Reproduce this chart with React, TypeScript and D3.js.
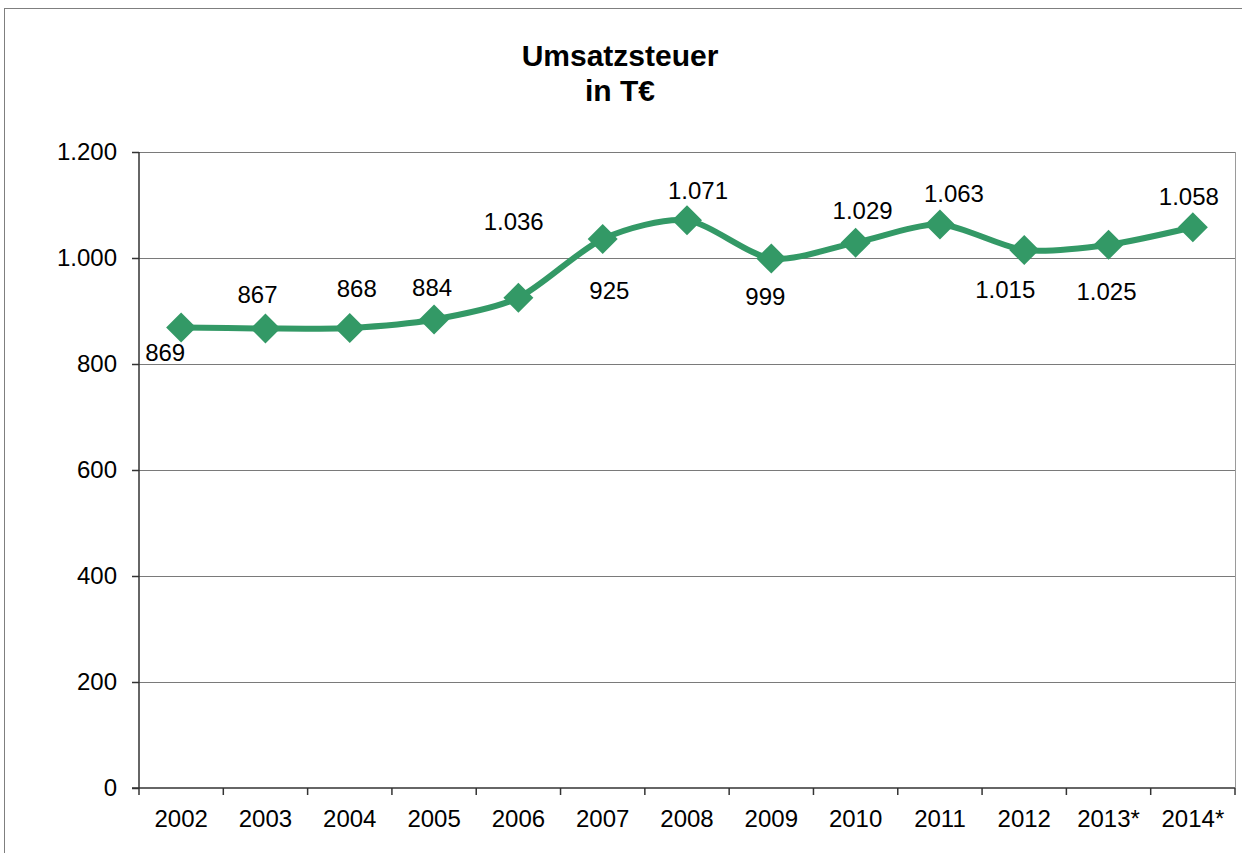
import React from 'react';
import * as d3 from "d3";

const years = ["2002", "2003", "2004", "2005", "2006", "2007", "2008", "2009", "2010", "2011", "2012", "2013*", "2014*"];
const values = [869, 867, 868, 884, 925, 1036, 1071, 999, 1029, 1063, 1015, 1025, 1058];
const yTicks = [0, 200, 400, 600, 800, 1000, 1200];
const titleLines = ["Umsatzsteuer", "in T€"];

// where each value label sits relative to its marker (dx, dy to baseline)
const labelOffsets: [number, number][] = [
    [-16, 34], [-8, -25], [7, -31], [-2, -23], [91, 1], [-89, -9], [11, -21],
    [-6, 46], [7, -24], [14, -23], [-19, 48], [-2, 55], [-4, -22]
];

const fmt = (v: number) => d3.format(",")(v).replace(/,/g, ".");

export default function App() {
    const width = 1242;
    const height = 853;
    const left = 139;
    const right = 1235;
    const top = 152;
    const bottom = 788;
    const green = "#339966";
    const font = "'Liberation Sans', Arial, sans-serif";

    const svgRef = React.useRef<SVGSVGElement>(null);

    React.useEffect(() => {
        const svg = d3.select(svgRef.current);
        svg.selectAll("*").remove();

        const x = d3.scaleBand().domain(years).range([left, right]);
        const y = d3.scaleLinear().domain([0, 1200]).range([bottom, top]);
        const cx = (i: number) => (x(years[i]) as number) + x.bandwidth() / 2;

        svg.append("rect")
            .attr("x", 4.5).attr("y", 8.5)
            .attr("width", 1300).attr("height", 900)
            .attr("fill", "white").attr("stroke", "#7f7f7f").attr("stroke-width", 1);

        // title
        svg.append("text")
            .attr("x", 620).attr("y", 66)
            .attr("text-anchor", "middle")
            .style("font-family", font).style("font-weight", "bold").style("font-size", "30px")
            .selectAll("tspan").data(titleLines).enter().append("tspan")
            .attr("x", 620).attr("dy", (d, i) => i === 0 ? 0 : 35)
            .text(d => d);

        // gridlines
        svg.append("g").selectAll("line").data(yTicks.filter(t => t > 0)).enter().append("line")
            .attr("x1", left).attr("x2", right)
            .attr("y1", d => Math.round(y(d)) + 0.5).attr("y2", d => Math.round(y(d)) + 0.5)
            .attr("stroke", "#7a7a7a").attr("stroke-width", 1);

        svg.append("line")
            .attr("x1", right + 0.5).attr("x2", right + 0.5).attr("y1", top).attr("y2", bottom)
            .attr("stroke", "#9a9a9a").attr("stroke-width", 1);

        // axes
        const axisY = d3.axisLeft(y).tickValues(yTicks).tickSize(7).tickPadding(15).tickFormat(d => fmt(d as number));
        const gy = svg.append("g").attr("transform", `translate(${left}, 0)`).call(axisY);
        gy.selectAll("text").style("font-family", font).style("font-size", "24px").attr("fill", "#000");
        gy.selectAll("line, path").attr("stroke", "#333").attr("stroke-width", 1.5);
        gy.select(".domain").attr("d", `M0,${top}V${bottom}`);

        const axisX = d3.axisBottom(x).tickSize(0).tickPadding(22);
        const gx = svg.append("g").attr("transform", `translate(0, ${bottom})`).call(axisX);
        gx.selectAll("text").style("font-family", font).style("font-size", "24px").attr("fill", "#000");
        gx.select(".domain").attr("d", `M${left - 7},0H${right}`).attr("stroke", "#333").attr("stroke-width", 1.5);
        gx.append("g").selectAll("line").data(d3.range(years.length + 1)).enter().append("line")
            .attr("x1", i => left + i * x.bandwidth()).attr("x2", i => left + i * x.bandwidth())
            .attr("y1", 0).attr("y2", 7)
            .attr("stroke", "#333").attr("stroke-width", 1.5);

        // line
        const line = d3.line<number>()
            .x((d, i) => cx(i))
            .y(d => y(d))
            .curve(d3.curveCardinal.tension(0.2));
        svg.append("path").datum(values)
            .attr("d", line)
            .attr("fill", "none").attr("stroke", green).attr("stroke-width", 6)
            .attr("stroke-linejoin", "round");

        // diamond markers
        const r = 15;
        svg.append("g").selectAll("path").data(values).enter().append("path")
            .attr("d", (d, i) => {
                const px = cx(i), py = y(d);
                return `M${px},${py - r}L${px + r},${py}L${px},${py + r}L${px - r},${py}Z`;
            })
            .attr("fill", green);

        // value labels
        svg.append("g").selectAll("text").data(values).enter().append("text")
            .attr("x", (d, i) => cx(i) + labelOffsets[i][0])
            .attr("y", (d, i) => y(d) + labelOffsets[i][1])
            .attr("text-anchor", "middle")
            .style("font-family", font).style("font-size", "24px")
            .text(d => fmt(d));
    }, []);

    return (
        <svg ref={svgRef} width={width} height={height}
            style={{position: "absolute", left: 0, top: 0, background: "white"}}></svg>
    );
}
